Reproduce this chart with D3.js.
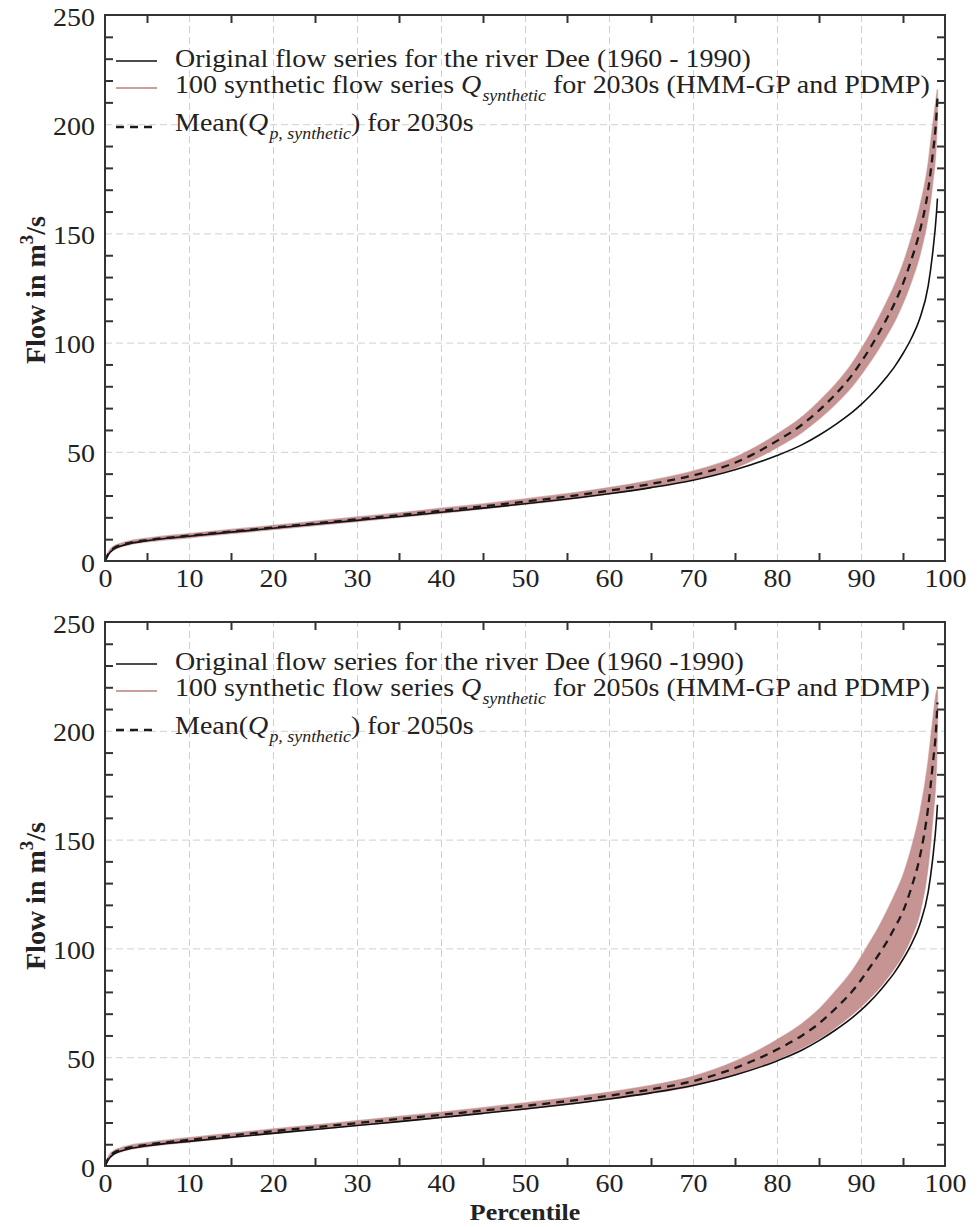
<!DOCTYPE html>
<html><head><meta charset="utf-8">
<script src="https://cdn.jsdelivr.net/npm/d3@7"></script>
<style>
body{margin:0;background:#fff;}
svg{display:block;}
text{font-family:"Liberation Serif","Times New Roman",serif;fill:#222;}
</style></head>
<body>
<svg id="chart" width="977" height="1227"></svg>
<script>
// ---- data ----
const percentiles = [0, 0.5, 1, 2, 3, 5, 10, 15, 20, 25, 30, 35, 40, 45, 50, 55, 60, 65, 70, 75, 80, 83, 85, 87, 89, 90, 91, 92, 93, 94, 95, 96, 97, 98, 98.5, 99, 99.1];
const original = [0, 3.5, 5.3, 7, 8, 9.3, 11.3, 13.2, 15, 16.8, 18.6, 20.4, 22.3, 24.2, 26.2, 28.4, 30.8, 33.6, 37, 41.8, 48.3, 53.3, 57.6, 62.6, 68.3, 71.6, 75.3, 79.4, 84, 89, 95, 102, 111, 126, 140, 160, 166];
const mean2030 = [0, 4, 5.8, 7.4, 8.4, 9.6, 11.6, 13.5, 15.3, 17.2, 19.1, 21, 23, 25, 27.2, 29.5, 32.2, 35.3, 39.2, 45, 55, 62.5, 69, 76.5, 85.5, 91, 97, 103.5, 110.5, 118, 127, 138, 151, 170, 185, 205, 212];
const lower2030 = [0, 3.3, 5.0, 6.6, 7.6, 8.8, 10.7, 12.6, 14.4, 16.2, 18.1, 20, 21.9, 23.9, 26.0, 28.2, 30.8, 33.7, 37.3, 42.6, 52, 59, 65, 72, 80.2, 85.2, 90.7, 96.5, 102.9, 109.7, 118, 128, 140, 158, 172, 195, 206];
const upper2030 = [0.5, 4.7, 6.6, 8.2, 9.2, 10.4, 12.5, 14.4, 16.2, 18.2, 20.1, 22, 24.1, 26.1, 28.4, 30.8, 33.6, 36.9, 41.1, 47.4, 58, 66, 73, 81, 90.8, 96.8, 103.3, 110.5, 118.1, 126.3, 136, 148, 162, 182, 198, 213, 216];
const mean2050 = [0, 4.2, 6, 7.6, 8.6, 9.8, 12, 14, 16, 17.8, 19.7, 21.6, 23.5, 25.5, 27.6, 29.8, 32.3, 35.2, 39, 45, 53.5, 60, 65.5, 72.5, 80.5, 85.5, 91, 96.5, 102.5, 109.5, 117, 128, 142, 165, 183, 205, 213];
const lower2050 = [0, 3.4, 5.1, 6.7, 7.7, 8.9, 11, 13, 15, 16.8, 18.6, 20.5, 22.3, 24.2, 26.2, 28.3, 30.7, 33.4, 36.8, 42, 49, 54.2, 58.5, 63.8, 69.8, 73.2, 77, 81, 85.7, 91, 97, 105, 116, 138, 158, 186, 204];
const upper2050 = [0.5, 5, 6.9, 8.5, 9.5, 10.7, 13, 15, 17, 18.8, 20.8, 22.7, 24.7, 26.8, 29, 31.3, 33.9, 37, 41.2, 48, 58, 65.5, 72, 80.5, 90, 96, 102.5, 109, 116.5, 124.5, 133.5, 146, 162, 186, 203, 218, 219];

const xLabelTicks = [0, 10, 20, 30, 40, 50, 60, 70, 80, 90, 100];
const xMinorTicks = [5, 15, 25, 35, 45, 55, 65, 75, 85, 95];
const xGrid = [10, 20, 30, 40, 50, 60, 70, 80, 90];
const yLabelTicks = [0, 50, 100, 150, 200, 250];
const yMinorTicks = [10, 20, 30, 40, 60, 70, 80, 90, 110, 120, 130, 140, 160, 170, 180, 190, 210, 220, 230, 240];
const yGrid = [50, 100, 150, 200];

const panelsInfo = [
  {top: 15, bottom: 561, mean: mean2030, lower: lower2030, upper: upper2030,
   leg1: "Original flow series for the river Dee (1960 - 1990)", period: "2030s"},
  {top: 622, bottom: 1166, mean: mean2050, lower: lower2050, upper: upper2050,
   leg1: "Original flow series for the river Dee (1960 -1990)", period: "2050s"}
];

const svg = d3.select("#chart");
const L = 105, R = 945;
const SX = 1.12; // horizontal stretch of the original figure's text
const x = d3.scaleLinear().domain([0, 100]).range([L, R]);
const axisColor = "#333";
const bandColor = "#c28b8b";

panelsInfo.forEach((pi, idx) => {
  const y = d3.scaleLinear().domain([0, 250]).range([pi.bottom, pi.top]);
  const g = svg.append("g");
  const h = pi.bottom - pi.top;

  // grid
  const gx = g.append("g").attr("transform", `translate(0,${pi.bottom})`)
    .call(d3.axisBottom(x).tickValues(xGrid).tickSize(-h).tickFormat(""));
  const gy = g.append("g").attr("transform", `translate(${L},0)`)
    .call(d3.axisLeft(y).tickValues(yGrid).tickSize(-(R - L)).tickFormat(""));
  [gx, gy].forEach(a => {
    a.select(".domain").remove();
    a.selectAll("line").attr("stroke", "#d0d0d0").attr("stroke-width", 1).attr("stroke-dasharray", "7,4");
  });

  const data = percentiles.map((p, i) => ({p, o: original[i], m: pi.mean[i], lo: pi.lower[i], up: pi.upper[i]}));

  // band
  g.append("path").datum(data)
    .attr("d", d3.area().x(d => x(d.p)).y0(d => y(d.lo)).y1(d => y(d.up)).curve(d3.curveMonotoneX))
    .attr("fill", bandColor).attr("fill-opacity", 0.92)
    .attr("stroke", bandColor).attr("stroke-width", 1.5).attr("stroke-opacity", 0.6);

  // original
  g.append("path").datum(data)
    .attr("d", d3.line().x(d => x(d.p)).y(d => y(d.o)).curve(d3.curveMonotoneX))
    .attr("fill", "none").attr("stroke", "#111").attr("stroke-width", 1.6);

  // mean
  g.append("path").datum(data)
    .attr("d", d3.line().x(d => x(d.p)).y(d => y(d.m)).curve(d3.curveMonotoneX))
    .attr("fill", "none").attr("stroke", "#1a1a1a").attr("stroke-width", 2.3).attr("stroke-dasharray", "8,6");

  // frame
  g.append("rect").attr("x", L).attr("y", pi.top).attr("width", R - L).attr("height", h)
    .attr("fill", "none").attr("stroke", axisColor).attr("stroke-width", 2);

  // minor ticks (inward, all four sides)
  const tk = 8;
  const addTicks = (axisFn, scale, vals, tx, ty) => {
    const a = g.append("g").attr("transform", `translate(${tx},${ty})`)
      .call(axisFn(scale).tickValues(vals).tickSize(tk).tickFormat(""));
    a.select(".domain").remove();
    a.selectAll("line").attr("stroke", axisColor).attr("stroke-width", 2);
  };
  addTicks(d3.axisTop, x, xMinorTicks, 0, pi.bottom);
  addTicks(d3.axisBottom, x, xMinorTicks, 0, pi.top);
  addTicks(d3.axisRight, y, yMinorTicks, L, 0);
  addTicks(d3.axisLeft, y, yMinorTicks, R, 0);

  // tick labels
  const xl = g.append("g").attr("transform", `translate(0,${pi.bottom})`)
    .call(d3.axisBottom(x).tickValues(xLabelTicks).tickSize(0).tickPadding(8).tickFormat(d3.format("d")));
  xl.select(".domain").remove();
  xl.selectAll("text").attr("font-size", 25).attr("fill", "#333")
    .attr("dy", "0.72em").attr("transform", `scale(${SX},1)`);
  const yl = g.append("g").attr("transform", `translate(${L},0)`)
    .call(d3.axisLeft(y).tickValues(yLabelTicks).tickSize(0).tickPadding(9).tickFormat(d3.format("d")));
  yl.select(".domain").remove();
  yl.selectAll("text").attr("font-size", 25).attr("fill", "#333")
    .attr("dy", "0.4em").attr("transform", `scale(${SX},1)`);

  // y title
  const cy = (pi.top + pi.bottom) / 2 + 2;
  const yt = g.append("text").attr("transform", `translate(45,${cy}) rotate(-90)`)
    .attr("text-anchor", "middle").attr("font-weight", "bold").attr("font-size", 28);
  yt.append("tspan").text("Flow in m");
  yt.append("tspan").attr("font-size", 19).attr("dy", -12).text("3");
  yt.append("tspan").attr("dy", 12).text("/s");

  // legend
  const off = idx === 0 ? 0 : -4;
  const r1 = pi.top + 52 + off, r2 = pi.top + 78 + off, r3 = pi.top + 116 + off;
  const lx0 = 116, lx1 = 157, tx = 175;
  g.append("line").attr("x1", lx0).attr("x2", lx1).attr("y1", r1 - 6).attr("y2", r1 - 6)
    .attr("stroke", "#111").attr("stroke-width", 1.6);
  g.append("line").attr("x1", lx0).attr("x2", lx1).attr("y1", r2 - 5).attr("y2", r2 - 5)
    .attr("stroke", "#c9a0a0").attr("stroke-width", 2);
  g.append("line").attr("x1", lx0).attr("x2", lx1).attr("y1", r3 - 4).attr("y2", r3 - 4)
    .attr("stroke", "#1a1a1a").attr("stroke-width", 2.3).attr("stroke-dasharray", "8,6");

  const leg = (yy) => g.append("g").attr("transform", `translate(${tx},${yy}) scale(${SX},1)`)
    .append("text").attr("x", 0).attr("y", 0).attr("font-size", 25);

  leg(r1).text(pi.leg1);

  const t2 = leg(r2);
  t2.append("tspan").text("100 synthetic flow series ");
  t2.append("tspan").attr("font-style", "italic").text("Q");
  t2.append("tspan").attr("font-style", "italic").attr("font-size", 16).attr("dy", 8).attr("dx", 1).text("synthetic");
  t2.append("tspan").attr("dy", -8).text(" for " + pi.period + " (HMM-GP and PDMP)");

  const t3 = leg(r3);
  t3.append("tspan").text("Mean(");
  t3.append("tspan").attr("font-style", "italic").text("Q");
  t3.append("tspan").attr("font-style", "italic").attr("font-size", 16).attr("dy", 8).attr("dx", 1).text("p, synthetic");
  t3.append("tspan").attr("dy", -8).text(") for " + pi.period);
});

// x title
svg.append("g").attr("transform", `translate(${(L + R) / 2},1220) scale(1.08,1)`)
  .append("text").attr("text-anchor", "middle")
  .attr("font-weight", "bold").attr("font-size", 24).text("Percentile");
</script>
</body></html>
